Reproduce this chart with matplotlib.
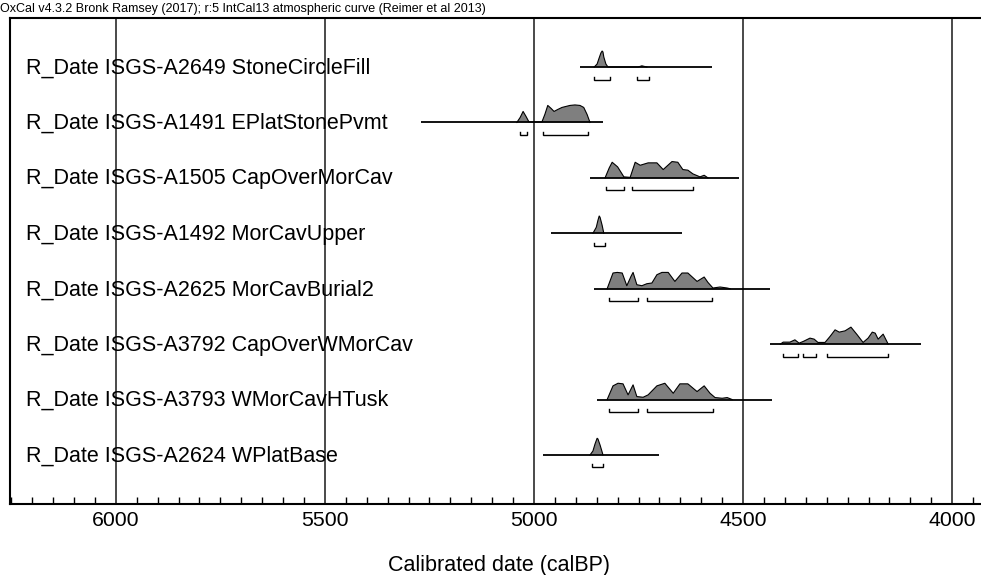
import matplotlib
matplotlib.use("Agg")
import matplotlib.pyplot as plt
from matplotlib.ticker import MultipleLocator, FixedLocator

plt.rcParams['font.family'] = ['Liberation Sans', 'DejaVu Sans']

W, H = 981, 575

title = "OxCal v4.3.2 Bronk Ramsey (2017); r:5 IntCal13 atmospheric curve (Reimer et al 2013)"
xlabel = "Calibrated date (calBP)"
major_ticks = [6000, 5500, 5000, 4500, 4000]

labels = [
    "R_Date ISGS-A2649 StoneCircleFill",
    "R_Date ISGS-A1491 EPlatStonePvmt",
    "R_Date ISGS-A1505 CapOverMorCav",
    "R_Date ISGS-A1492 MorCavUpper",
    "R_Date ISGS-A2625 MorCavBurial2",
    "R_Date ISGS-A3792 CapOverWMorCav",
    "R_Date ISGS-A3793 WMorCavHTusk",
    "R_Date ISGS-A2624 WPlatBase",
]

# horizontal range line of each distribution (calBP)
ranges = [
    (4890, 4574),
    (5270, 4835),
    (4866, 4510),
    (4959, 4646),
    (4856, 4435),
    (4435, 4074),
    (4849, 4431),
    (4978, 4701),
]

# probability density curves (years calBP, relative height)
years_1 = [4856, 4849, 4845, 4840, 4837, 4835, 4833, 4828, 4823, 4751, 4742, 4730]
dens_1 = [0, 3, 8, 14, 16, 15, 10, 3, 0, 0, 1.2, 0]

years_2 = [5041, 5033, 5026, 5019, 5012, 4981, 4974, 4967, 4959, 4952, 4943, 4933,
           4914, 4902, 4890, 4881, 4873, 4866]
dens_2 = [0, 5, 11, 6, 0.5, 0.5, 8, 17, 14, 11, 13, 15, 17, 17.5, 17, 15, 8, 0]

years_3 = [4830, 4820, 4813, 4800, 4785, 4770, 4758, 4746, 4727, 4706, 4691, 4670,
           4656, 4644, 4632, 4620, 4603, 4593, 4584]
dens_3 = [0, 10, 15.6, 11, 1, 0.5, 15.6, 12.6, 15, 15, 8.3, 16.3,
          15.6, 8.3, 7.7, 4, 1, 2.6, 0]

years_4 = [4859, 4851, 4847, 4844, 4842, 4837, 4833]
dens_4 = [0, 6, 13, 17.3, 16, 8, 0]

years_5 = [4825, 4811, 4801, 4789, 4778, 4768, 4763, 4754, 4742, 4730, 4718, 4706,
           4694, 4679, 4663, 4646, 4632, 4610, 4593, 4584, 4572, 4555, 4538, 4531]
dens_5 = [0, 15.7, 16.3, 15.7, 3, 12.3, 16.3, 4, 3, 5, 5.7, 14,
          16.3, 16.3, 7.3, 15.7, 15.7, 7.3, 11.7, 6.3, 0.7, 1.7, 0.7, 0]

years_6 = [4411, 4404, 4388, 4376, 4366, 4356, 4340, 4330, 4321, 4304, 4292, 4280,
           4270, 4256, 4242, 4227, 4213, 4201, 4191, 4184, 4177, 4165, 4155, 4153]
dens_6 = [0, 2, 2, 4.3, 1, 2.7, 6, 5, 1.7, 1.7, 7.7, 14.3,
          12, 13.3, 17, 9.3, 1.7, 6, 12, 11, 5, 10, 1.7, 0]

years_7 = [4825, 4811, 4799, 4787, 4775, 4763, 4754, 4739, 4727, 4706, 4687, 4667,
           4651, 4632, 4610, 4593, 4579, 4567, 4550, 4538, 4526]
dens_7 = [0, 13.7, 16.3, 15.7, 4.7, 14.7, 3, 2.3, 4.7, 13.7, 16.3, 6.3,
          15.7, 15.7, 8, 13.7, 6.3, 2, 1.3, 2, 0]

years_8 = [4866, 4859, 4854, 4849, 4847, 4842, 4837, 4835]
dens_8 = [0, 4, 11, 16.7, 16, 10, 3, 0]

years = [years_1, years_2, years_3, years_4, years_5, years_6, years_7, years_8]
dens = [dens_1, dens_2, dens_3, dens_4, dens_5, dens_6, dens_7, dens_8]

# highest posterior density ranges (brackets)
hpd = [
    [(4856, 4818), (4754, 4725)],
    [(5033, 5017), (4978, 4871)],
    [(4828, 4785), (4766, 4620)],
    [(4856, 4830)],
    [(4821, 4751), (4730, 4574)],
    [(4404, 4368), (4356, 4325), (4299, 4153)],
    [(4821, 4751), (4730, 4572)],
    [(4861, 4835)],
]

fig = plt.figure(figsize=(W / 100, H / 100), dpi=100)
ax = fig.add_axes([10 / W, (H - 504) / H, 1 - 10 / W, (504 - 18) / H])

row_px = 55.4
scale = 1.0 / row_px
ax.set_xlim(6253, 3931)
ax.set_ylim(7 + 49 / row_px, -49 / row_px)

for t in major_ticks:
    ax.axvline(t, color='#4a4a4a', lw=1.4, zorder=1)

for i, lab in enumerate(labels):
    ax.text(6215, i + 0.02, lab, fontsize=15.5, va='center', ha='left', zorder=5)
    a, b = ranges[i]
    ax.plot([a, b], [i, i], color='black', lw=1.3, zorder=3, solid_capstyle='butt')
    yy = [i - d * scale for d in dens[i]]
    ax.fill_between(years[i], i, yy, facecolor='#7f7f7f', edgecolor='none', zorder=2)
    ax.plot(years[i], yy, color='black', lw=0.8, zorder=3)
    by = i + 12.5 * scale
    bt = 3.0 * scale
    for (s, e) in hpd[i]:
        ax.plot([s, s, e, e], [by - bt, by, by, by - bt], color='black', lw=1.0,
                zorder=3, solid_joinstyle='miter')

ax.xaxis.set_major_locator(FixedLocator(major_ticks))
ax.xaxis.set_minor_locator(MultipleLocator(50))
ax.tick_params(axis='x', which='major', length=0, pad=5, labelsize=15.3)
ax.tick_params(axis='x', which='minor', direction='in', length=5, width=1, color='black')
ax.set_yticks([])
ax.spines['right'].set_visible(False)
for sp in ['left', 'top', 'bottom']:
    ax.spines[sp].set_linewidth(1.5)
    ax.spines[sp].set_color('black')

fig.text(0.5 / W, 1 - 9 / H, title, fontsize=9, va='center', ha='left')
fig.text(499 / W, 1 - 565 / H, xlabel, fontsize=15.5, va='center', ha='center')

fig.savefig('out.png', dpi=100)
